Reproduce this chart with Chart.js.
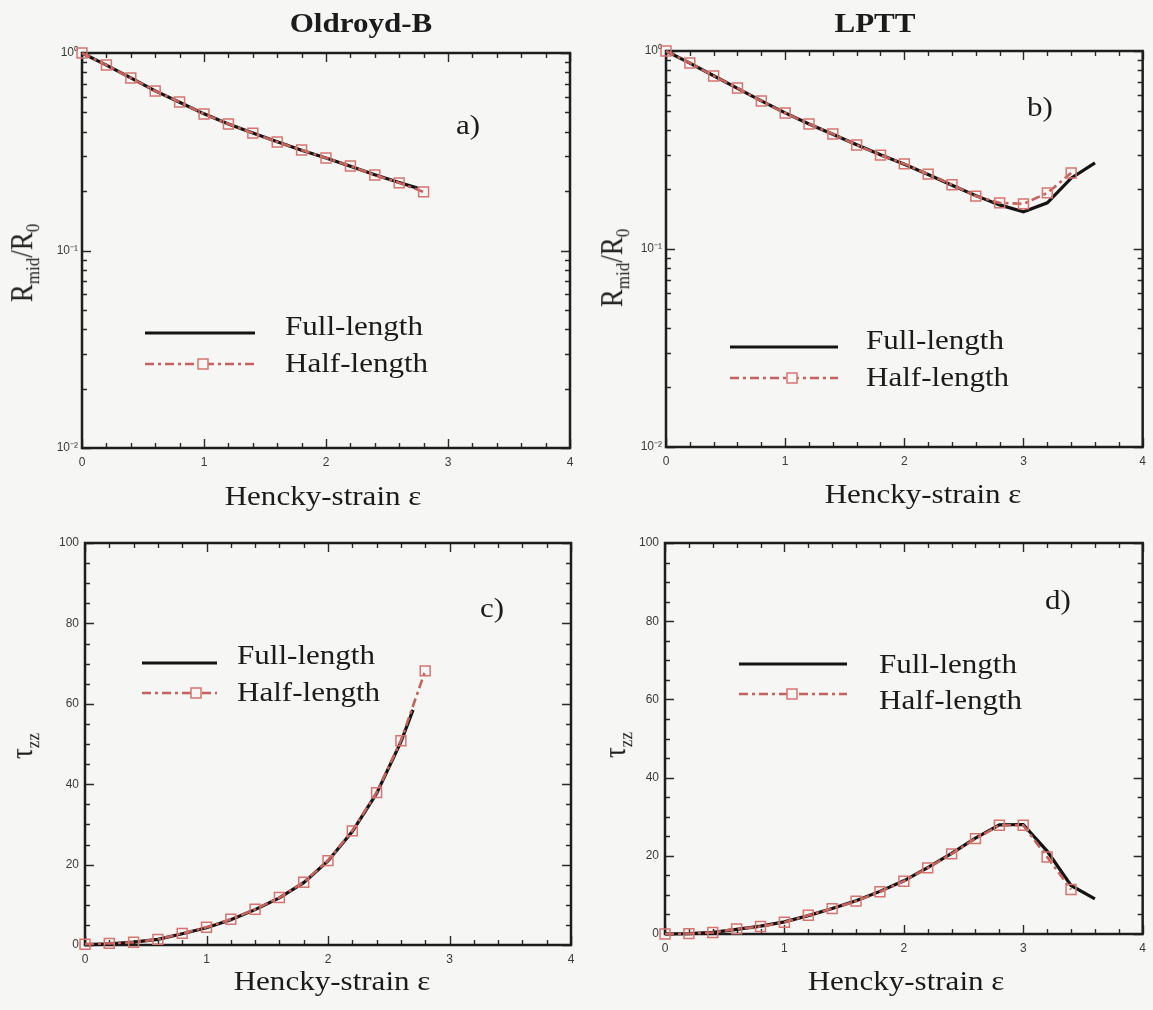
<!DOCTYPE html>
<html>
<head>
<meta charset="utf-8">
<script src="https://cdn.jsdelivr.net/npm/chart.js@4.4.1/dist/chart.umd.min.js"></script>
<style>
  body { margin: 0; background: #f6f6f4; }
  #page { position: relative; width: 1153px; height: 1010px; overflow: hidden;
          font-family: "Liberation Serif", "Times New Roman", serif; color: #1b1b1b; }
  canvas { position: absolute; left: 0; top: 0; }
  .t { position: absolute; white-space: nowrap; font-size: 27px; line-height: 1; }
  .ctr { transform: translate(-50%, -50%) scaleX(1.15); }
  .head { font-weight: bold; transform: translate(-50%, -50%) scaleX(1.15); }
  .leg { transform-origin: left center; transform: translateY(-50%) scaleX(1.15); }
  .yt { transform: translate(-50%, -50%) scaleX(1.15) rotate(-90deg); }
  .yt span { font-size: 17px; position: relative; top: 6px; }
</style>
</head>
<body>
<div id="page">
  <canvas id="cA" width="1153" height="1010"></canvas>
  <canvas id="cB" width="1153" height="1010"></canvas>
  <canvas id="cC" width="1153" height="1010"></canvas>
  <canvas id="cD" width="1153" height="1010"></canvas>

  <div class="t head" style="left:361px;top:23px">Oldroyd-B</div>
  <div class="t head" style="left:875px;top:23px">LPTT</div>

  <div class="t yt" style="left:22px;top:263px">R<span>mid</span>/R<span>0</span></div>
  <div class="t yt" style="left:612px;top:268px">R<span>mid</span>/R<span>0</span></div>
  <div class="t yt" style="left:22px;top:746px">τ<span>zz</span></div>
  <div class="t yt" style="left:615px;top:745px">τ<span>zz</span></div>

  <div class="t ctr" style="left:468px;top:125px">a)</div>
  <div class="t ctr" style="left:1040px;top:107px">b)</div>
  <div class="t ctr" style="left:492px;top:608px">c)</div>
  <div class="t ctr" style="left:1058px;top:600px">d)</div>

  <div class="t ctr" style="left:323px;top:496px">Hencky-strain ε</div>
  <div class="t ctr" style="left:923px;top:494px">Hencky-strain ε</div>
  <div class="t ctr" style="left:332px;top:981px">Hencky-strain ε</div>
  <div class="t ctr" style="left:906px;top:981px">Hencky-strain ε</div>

  <div class="t leg" style="left:285px;top:326px">Full-length</div>
  <div class="t leg" style="left:285px;top:363px">Half-length</div>
  <div class="t leg" style="left:866px;top:340px">Full-length</div>
  <div class="t leg" style="left:866px;top:377px">Half-length</div>
  <div class="t leg" style="left:237px;top:655px">Full-length</div>
  <div class="t leg" style="left:237px;top:692px">Half-length</div>
  <div class="t leg" style="left:879px;top:664px">Full-length</div>
  <div class="t leg" style="left:879px;top:700px">Half-length</div>
</div>

<script>
// ---- data ----
// a) Oldroyd-B, R_mid/R_0
const strainHalfA = [0, 0.2, 0.4, 0.6, 0.8, 1.0, 1.2, 1.4, 1.6, 1.8, 2.0, 2.2, 2.4, 2.6, 2.8];
const halfA = [1.0, 0.869, 0.747, 0.642, 0.565, 0.491, 0.437, 0.393, 0.354, 0.323, 0.294, 0.268, 0.241, 0.220, 0.198];
const strainFullA = [0, 0.2, 0.4, 0.6, 0.8, 1.0, 1.2, 1.4, 1.6, 1.8, 2.0, 2.2, 2.4, 2.6, 2.75];
const fullA = [1.0, 0.868, 0.748, 0.643, 0.563, 0.492, 0.437, 0.393, 0.355, 0.322, 0.294, 0.267, 0.242, 0.221, 0.207];

// b) LPTT, R_mid/R_0
const strainHalfB = [0, 0.2, 0.4, 0.6, 0.8, 1.0, 1.2, 1.4, 1.6, 1.8, 2.0, 2.2, 2.4, 2.6, 2.8, 3.0, 3.2, 3.4];
const halfB = [1.0, 0.870, 0.748, 0.650, 0.559, 0.486, 0.428, 0.381, 0.335, 0.298, 0.269, 0.239, 0.211, 0.185, 0.171, 0.169, 0.192, 0.242];
const strainFullB = [0, 0.2, 0.4, 0.6, 0.8, 1.0, 1.2, 1.4, 1.6, 1.8, 2.0, 2.2, 2.4, 2.6, 2.8, 3.0, 3.2, 3.4, 3.6];
const fullB = [1.0, 0.868, 0.750, 0.648, 0.560, 0.487, 0.428, 0.380, 0.336, 0.299, 0.268, 0.238, 0.210, 0.186, 0.167, 0.154, 0.171, 0.228, 0.272];

// c) Oldroyd-B, tau_zz
const strainHalfC = [0, 0.2, 0.4, 0.6, 0.8, 1.0, 1.2, 1.4, 1.6, 1.8, 2.0, 2.2, 2.4, 2.6, 2.8];
const halfC = [0.2, 0.4, 0.7, 1.4, 2.9, 4.4, 6.4, 8.9, 11.8, 15.6, 21.0, 28.4, 37.9, 50.8, 68.2];
const strainFullC = [0, 0.2, 0.4, 0.6, 0.8, 1.0, 1.2, 1.4, 1.6, 1.8, 2.0, 2.2, 2.4, 2.6, 2.7];
const fullC = [0.1, 0.3, 0.7, 1.4, 2.8, 4.3, 6.3, 8.8, 11.7, 15.5, 20.9, 28.2, 37.7, 50.5, 58.5];

// d) LPTT, tau_zz
const strainHalfD = [0, 0.2, 0.4, 0.6, 0.8, 1.0, 1.2, 1.4, 1.6, 1.8, 2.0, 2.2, 2.4, 2.6, 2.8, 3.0, 3.2, 3.4];
const halfD = [0.0, 0.1, 0.4, 1.3, 1.9, 3.0, 4.8, 6.5, 8.4, 10.8, 13.5, 16.9, 20.5, 24.4, 27.8, 27.8, 19.7, 11.4];
const strainFullD = [0, 0.2, 0.4, 0.6, 0.8, 1.0, 1.2, 1.4, 1.6, 1.8, 2.0, 2.2, 2.4, 2.6, 2.8, 3.0, 3.2, 3.4, 3.6];
const fullD = [0.0, 0.1, 0.4, 1.2, 2.0, 3.1, 4.7, 6.5, 8.5, 10.9, 13.6, 17.0, 20.6, 24.5, 27.9, 28.0, 21.2, 12.4, 9.0];

const xTickLabels = ['0', '1', '2', '3', '4'];
const logTickLabels = ['10⁻²', '10⁻¹', '10⁰'];

// ---- styling ----
const W = 1153, H = 1010, YW = 70;
const FULL_COLOR = '#141414';
const HALF_COLOR = '#c4625d';
const SQ_COLOR = '#d67570';
const HALF_DASH = [9, 4, 3, 4];
const TICK_FONT = { family: 'Liberation Sans, Arial, sans-serif', size: 12 };

function pairs(xs, ys) {
  return xs.map((x, i) => ({ x: x, y: ys[i] }));
}

function yTickMarks(log) {
  const out = [];
  if (log) {
    for (let e = -2; e < 0; e++) {
      for (let m = 1; m <= 9; m++) out.push({ v: m * Math.pow(10, e), major: m === 1 });
    }
    out.push({ v: 1, major: true });
  } else {
    for (let v = 0; v <= 100; v += 5) out.push({ v: v, major: v % 20 === 0 });
  }
  return out;
}

// box around the plot + inward ticks on all four sides
const frameTicks = {
  id: 'frameTicks',
  beforeDatasetsDraw(chart, args, opts) {
    const { ctx, chartArea: a, scales: { x, y } } = chart;
    ctx.save();
    ctx.strokeStyle = '#2a2a2a';
    ctx.lineWidth = 1.4;
    ctx.beginPath();
    for (let i = 0; i <= 20; i++) {
      const px = Math.round(x.getPixelForValue(i * 0.2)) + 0.5;
      const len = i % 5 === 0 ? 9 : 5;
      ctx.moveTo(px, a.bottom); ctx.lineTo(px, a.bottom - len);
      ctx.moveTo(px, a.top); ctx.lineTo(px, a.top + len);
    }
    for (const t of yTickMarks(opts.log)) {
      const py = Math.round(y.getPixelForValue(t.v)) + 0.5;
      const len = t.major ? 9 : 5;
      ctx.moveTo(a.left, py); ctx.lineTo(a.left + len, py);
      ctx.moveTo(a.right, py); ctx.lineTo(a.right - len, py);
    }
    ctx.stroke();
    ctx.lineWidth = 2.5;
    ctx.strokeStyle = '#1e1e1e';
    ctx.strokeRect(a.left, a.top, a.width, a.height);
    ctx.restore();
  }
};

// line samples for the legend inside each panel
const sampleLegend = {
  id: 'sampleLegend',
  afterDatasetsDraw(chart, args, o) {
    const ctx = chart.ctx;
    ctx.save();
    ctx.lineWidth = 3.2;
    ctx.strokeStyle = FULL_COLOR;
    ctx.beginPath(); ctx.moveTo(o.x1, o.yFull); ctx.lineTo(o.x2, o.yFull); ctx.stroke();
    ctx.lineWidth = 2.6;
    ctx.strokeStyle = HALF_COLOR;
    ctx.setLineDash(HALF_DASH);
    ctx.beginPath(); ctx.moveTo(o.x1, o.yHalf); ctx.lineTo(o.x2, o.yHalf); ctx.stroke();
    ctx.setLineDash([]);
    ctx.lineWidth = 1.5;
    ctx.strokeStyle = SQ_COLOR;
    ctx.fillStyle = '#f6f6f4';
    ctx.fillRect(o.sq - 5, o.yHalf - 5, 10, 10);
    ctx.strokeRect(o.sq - 5, o.yHalf - 5, 10, 10);
    ctx.restore();
  }
};

function makePanel(id, p) {
  const yScale = p.log ? {
    type: 'logarithmic', min: 0.01, max: 1,
    ticks: {
      autoSkip: false, padding: 4, font: TICK_FONT, color: '#3a3a3a',
      callback: (v) => {
        const e = Math.log10(v);
        if (Math.abs(e - Math.round(e)) > 1e-6) return '';
        return logTickLabels[Math.round(e) + 2];
      }
    }
  } : {
    type: 'linear', min: 0, max: 100,
    ticks: { stepSize: 20, padding: 6, font: TICK_FONT, color: '#3a3a3a' }
  };
  yScale.grid = { display: false, drawTicks: false };
  yScale.border = { display: false };
  yScale.afterFit = (s) => { s.width = YW; };

  new Chart(document.getElementById(id), {
    type: 'line',
    data: {
      datasets: [
        {
          label: 'Half-length', data: pairs(p.hx, p.hy),
          borderColor: HALF_COLOR, borderWidth: 2.6, borderDash: HALF_DASH,
          pointStyle: 'rect', pointRadius: 7, pointBorderWidth: 1.5,
          pointBorderColor: SQ_COLOR, pointBackgroundColor: 'rgba(0,0,0,0)',
          tension: 0, clip: false, order: 1
        },
        {
          label: 'Full-length', data: pairs(p.fx, p.fy),
          borderColor: FULL_COLOR, borderWidth: 3.2, pointRadius: 0,
          tension: 0, clip: false, order: 2
        }
      ]
    },
    options: {
      responsive: false, animation: false, devicePixelRatio: 1,
      layout: { padding: { left: p.box[0] - YW, top: p.box[1], right: W - p.box[2], bottom: H - p.box[3] - 30 } },
      plugins: {
        legend: { display: false }, tooltip: { enabled: false },
        frameTicks: { log: p.log },
        sampleLegend: p.legend
      },
      scales: {
        x: {
          type: 'linear', min: 0, max: 4,
          afterFit: (s) => { s.height = 30; },
          grid: { display: false, drawTicks: false }, border: { display: false },
          ticks: {
            stepSize: 1, padding: 7, autoSkip: false, maxRotation: 0,
            font: TICK_FONT, color: '#3a3a3a',
            callback: (v) => xTickLabels[Math.round(v)]
          }
        },
        y: yScale
      }
    },
    plugins: [frameTicks, sampleLegend]
  });
}

makePanel('cA', { box: [82, 53, 570, 448], log: true, hx: strainHalfA, hy: halfA, fx: strainFullA, fy: fullA,
  legend: { x1: 145, x2: 255, yFull: 333, yHalf: 364, sq: 203 } });
makePanel('cB', { box: [666, 51, 1151, 447], log: true, hx: strainHalfB, hy: halfB, fx: strainFullB, fy: fullB,
  legend: { x1: 730, x2: 838, yFull: 347, yHalf: 378, sq: 792 } });
makePanel('cC', { box: [85, 543, 571, 945], log: false, hx: strainHalfC, hy: halfC, fx: strainFullC, fy: fullC,
  legend: { x1: 142, x2: 217, yFull: 663, yHalf: 693, sq: 196 } });
makePanel('cD', { box: [665, 543, 1153, 934], log: false, hx: strainHalfD, hy: halfD, fx: strainFullD, fy: fullD,
  legend: { x1: 739, x2: 847, yFull: 664, yHalf: 694, sq: 792 } });
</script>
</body>
</html>
